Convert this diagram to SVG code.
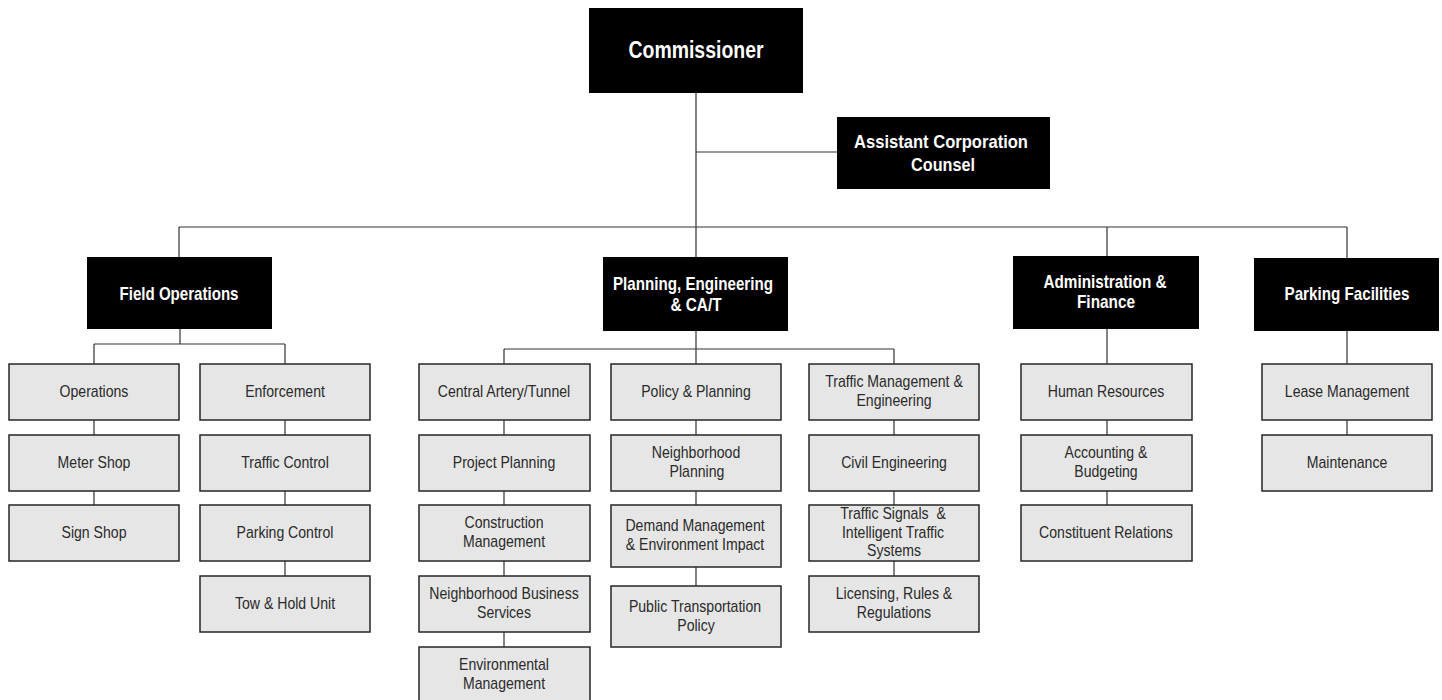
<svg xmlns="http://www.w3.org/2000/svg" width="1442" height="700" viewBox="0 0 1442 700">
<style>
.hb{fill:#000}
.cb{fill:#e6e6e6;stroke:#262626;stroke-width:1.5}
.ht{font-family:"Liberation Sans",Arial,sans-serif;font-weight:bold;font-size:19px;fill:#fff;text-anchor:middle}
.big{font-size:23px}
.ct{font-family:"Liberation Sans",Arial,sans-serif;font-size:16px;fill:#2a2a2a;text-anchor:middle;transform-box:fill-box;transform-origin:center;transform:scaleX(0.88)}
.ln{stroke:#333;stroke-width:1.2;fill:none}
</style>
<rect width="1442" height="700" fill="#fff"/>
<g id="connectors" class="ln">
<path d="M696,93 V257 M696,152 H837 M179,227 H1347 M179,227 V257 M1107,227 V256 M1347,227 V258"/>
<path d="M180,329 V344 M94,344 H285 M94,344 V364 M285,344 V364 M94,420 V435 M94,491 V505 M285,420 V435 M285,491 V505 M285,561 V576"/>
<path d="M696,331 V364 M504,349 H894 M504,349 V364 M894,349 V364 M504,420 V435 M504,491 V505 M504,561 V576 M504,632 V647 M696,420 V435 M696,491 V505 M696,567 V586 M894,420 V435 M894,491 V505 M894,561 V576"/>
<path d="M1107,329 V364 M1107,420 V435 M1107,491 V505 M1347,331 V364 M1347,420 V435"/>
</g>
<g id="commissioner"><rect class="hb" x="589" y="8" width="214" height="85"/><text class="ht big" x="696" y="58" textLength="135" lengthAdjust="spacingAndGlyphs">Commissioner</text></g>
<g id="acc"><rect class="hb" x="837" y="117" width="213" height="72"/><text class="ht" x="941" y="148" textLength="174" lengthAdjust="spacingAndGlyphs">Assistant Corporation</text><text class="ht" x="943" y="171" textLength="64" lengthAdjust="spacingAndGlyphs">Counsel</text></g>
<g id="field-operations"><rect class="hb" x="87" y="257" width="185" height="72"/><text class="ht" x="179" y="300" textLength="119" lengthAdjust="spacingAndGlyphs">Field Operations</text></g>
<g id="planning-engineering"><rect class="hb" x="603" y="257" width="185" height="74"/><text class="ht" x="693" y="290" textLength="160" lengthAdjust="spacingAndGlyphs">Planning, Engineering</text><text class="ht" x="696" y="311" textLength="51" lengthAdjust="spacingAndGlyphs">&amp; CA/T</text></g>
<g id="admin-finance"><rect class="hb" x="1013" y="256" width="186" height="73"/><text class="ht" x="1105" y="288" textLength="123" lengthAdjust="spacingAndGlyphs">Administration &amp;</text><text class="ht" x="1106" y="308" textLength="58" lengthAdjust="spacingAndGlyphs">Finance</text></g>
<g id="parking-facilities"><rect class="hb" x="1254" y="258" width="185" height="73"/><text class="ht" x="1347" y="300" textLength="125" lengthAdjust="spacingAndGlyphs">Parking Facilities</text></g>

<g id="operations"><rect class="cb" x="9" y="364" width="170" height="56"/><text class="ct" x="94" y="397">Operations</text></g>
<g id="meter-shop"><rect class="cb" x="9" y="435" width="170" height="56"/><text class="ct" x="94" y="468">Meter Shop</text></g>
<g id="sign-shop"><rect class="cb" x="9" y="505" width="170" height="56"/><text class="ct" x="94" y="538">Sign Shop</text></g>
<g id="enforcement"><rect class="cb" x="200" y="364" width="170" height="56"/><text class="ct" x="285" y="397">Enforcement</text></g>
<g id="traffic-control"><rect class="cb" x="200" y="435" width="170" height="56"/><text class="ct" x="285" y="468">Traffic Control</text></g>
<g id="parking-control"><rect class="cb" x="200" y="505" width="170" height="56"/><text class="ct" x="285" y="538">Parking Control</text></g>
<g id="tow-hold"><rect class="cb" x="200" y="576" width="170" height="56"/><text class="ct" x="285" y="609">Tow &amp; Hold Unit</text></g>

<g id="central-artery"><rect class="cb" x="419" y="364" width="171" height="56"/><text class="ct" x="504" y="397">Central Artery/Tunnel</text></g>
<g id="project-planning"><rect class="cb" x="419" y="435" width="171" height="56"/><text class="ct" x="504" y="468">Project Planning</text></g>
<g id="construction-management"><rect class="cb" x="419" y="505" width="171" height="56"/><text class="ct" x="504" y="528.5">Construction</text><text class="ct" x="504" y="547.5">Management</text></g>
<g id="neighborhood-business"><rect class="cb" x="419" y="576" width="171" height="56"/><text class="ct" x="504" y="599.5">Neighborhood Business</text><text class="ct" x="504" y="618.5">Services</text></g>
<g id="environmental-management"><rect class="cb" x="419" y="647" width="171" height="56"/><text class="ct" x="504" y="670.5">Environmental</text><text class="ct" x="504" y="689.5">Management</text></g>

<g id="policy-planning"><rect class="cb" x="611" y="364" width="170" height="56"/><text class="ct" x="696" y="397">Policy &amp; Planning</text></g>
<g id="neighborhood-planning"><rect class="cb" x="611" y="435" width="170" height="56"/><text class="ct" x="696" y="458.5">Neighborhood</text><text class="ct" x="697" y="477.5">Planning</text></g>
<g id="demand-management"><rect class="cb" x="611" y="505" width="170" height="62"/><text class="ct" x="695" y="531.5">Demand Management</text><text class="ct" x="695" y="550.5">&amp; Environment Impact</text></g>
<g id="public-transportation"><rect class="cb" x="611" y="586" width="170" height="61"/><text class="ct" x="695" y="612">Public Transportation</text><text class="ct" x="696" y="631">Policy</text></g>

<g id="traffic-management"><rect class="cb" x="809" y="364" width="170" height="56"/><text class="ct" x="894" y="387.5">Traffic Management &amp;</text><text class="ct" x="894" y="406.5">Engineering</text></g>
<g id="civil-engineering"><rect class="cb" x="809" y="435" width="170" height="56"/><text class="ct" x="894" y="468">Civil Engineering</text></g>
<g id="traffic-signals"><rect class="cb" x="809" y="505" width="170" height="56"/><text class="ct" x="893" y="519.5" xml:space="preserve">Traffic Signals  &amp;</text><text class="ct" x="893" y="538">Intelligent Traffic</text><text class="ct" x="894" y="556.5">Systems</text></g>
<g id="licensing"><rect class="cb" x="809" y="576" width="170" height="56"/><text class="ct" x="894" y="599.5">Licensing, Rules &amp;</text><text class="ct" x="894" y="618.5">Regulations</text></g>

<g id="human-resources"><rect class="cb" x="1021" y="364" width="171" height="56"/><text class="ct" x="1106" y="397">Human Resources</text></g>
<g id="accounting-budgeting"><rect class="cb" x="1021" y="435" width="171" height="56"/><text class="ct" x="1106" y="458.5">Accounting &amp;</text><text class="ct" x="1106" y="477.5">Budgeting</text></g>
<g id="constituent-relations"><rect class="cb" x="1021" y="505" width="171" height="56"/><text class="ct" x="1106" y="538">Constituent Relations</text></g>

<g id="lease-management"><rect class="cb" x="1262" y="364" width="170" height="56"/><text class="ct" x="1347" y="397">Lease Management</text></g>
<g id="maintenance"><rect class="cb" x="1262" y="435" width="170" height="56"/><text class="ct" x="1347" y="468">Maintenance</text></g>
</svg>
